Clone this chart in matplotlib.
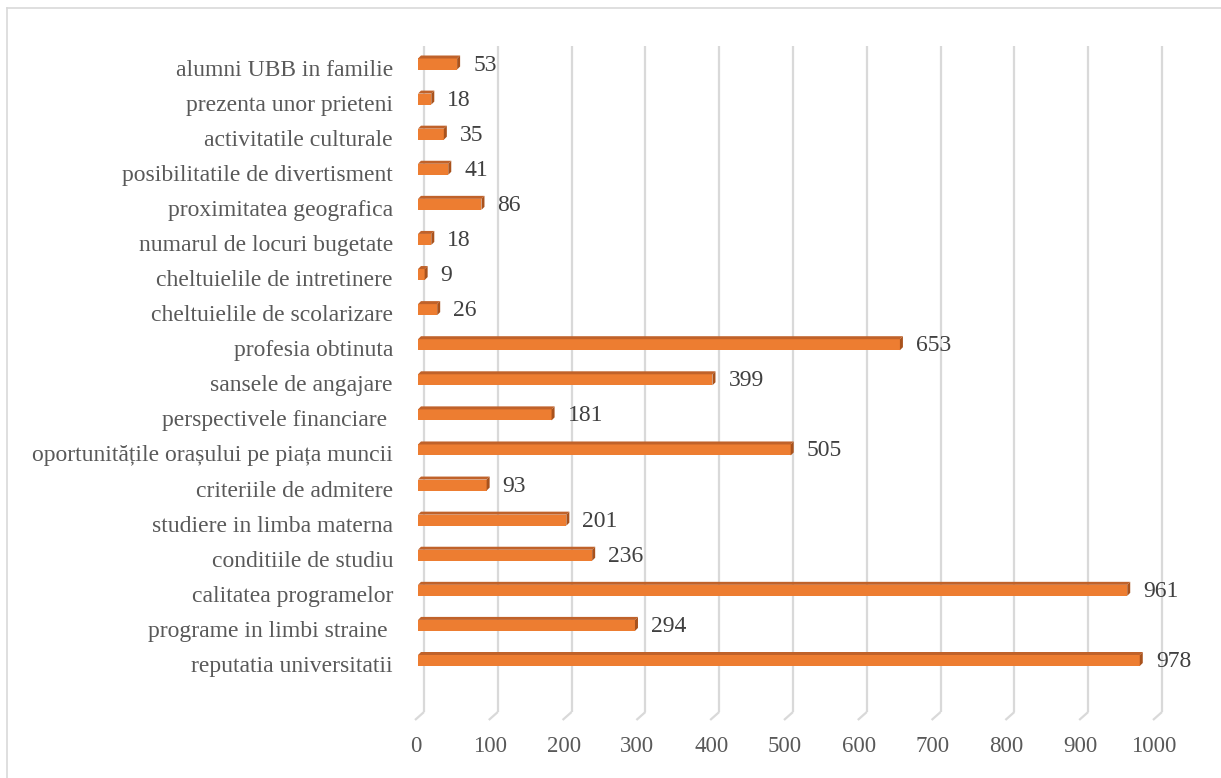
import matplotlib
matplotlib.use("Agg")
import matplotlib.pyplot as plt
from matplotlib.collections import PolyCollection
from matplotlib.lines import Line2D

categories = [
    "reputatia universitatii",
    "programe in limbi straine ",
    "calitatea programelor",
    "conditiile de studiu",
    "studiere in limba materna",
    "criteriile de admitere",
    "oportunitățile orașului pe piața muncii",
    "perspectivele financiare ",
    "sansele de angajare",
    "profesia obtinuta",
    "cheltuielile de scolarizare",
    "cheltuielile de intretinere",
    "numarul de locuri bugetate",
    "proximitatea geografica",
    "posibilitatile de divertisment",
    "activitatile culturale",
    "prezenta unor prieteni",
    "alumni UBB in familie",
]
values = [978, 294, 961, 236, 201, 93, 505, 181, 399, 653, 26, 9, 18, 86, 41, 35, 18, 53]
xticks = [0, 100, 200, 300, 400, 500, 600, 700, 800, 900, 1000]

W, H, DPI = 1221, 778, 100
fig = plt.figure(figsize=(W / DPI, H / DPI), dpi=DPI)
fig.patch.set_facecolor("white")

# axes geometry in pixels
ax_l, ax_r, ax_t, ax_b = 424, 1162, 46, 712
ax = fig.add_axes([ax_l / W, 1 - ax_b / H, (ax_r - ax_l) / W, (ax_b - ax_t) / H])
n = len(categories)
y_top_px, y_bot_px = 64.0, 660.5
spy = (y_bot_px - y_top_px) / (n - 1)
ax.set_xlim(0, 1000)
ax.set_ylim(-(ax_b - y_bot_px) / spy, (n - 1) + (y_top_px - ax_t) / spy)
for s in ax.spines.values():
    s.set_visible(False)
ax.set_xticks([])
ax.set_yticks([])
ax.patch.set_alpha(0)

PX = 1000 / (ax_r - ax_l)   # data units per px (x)
PY = 1 / spy                # data units per px (y)

grid_c = "#D9D9D9"
ylo, yhi = ax.get_ylim()
for t in xticks:
    ax.plot([t, t], [ylo, yhi], color=grid_c, lw=1.6, zorder=1, clip_on=False,
            solid_capstyle="butt")
    ax.plot([t, t - 9 * PX], [ylo, ylo - 8 * PY], color=grid_c, lw=1.6, zorder=1,
            clip_on=False, solid_capstyle="butt")
    ax.text(t - 8 * PX, ylo - 35 * PY, str(t), ha="center", va="center",
            fontsize=16.5, color="#595959", family="Liberation Serif")

ys = list(range(n))
fh = 11 * PY
off = -6 * PX
dep_x, dep_y = 3 * PX, 3 * PY
front = "#ED7D31"
topc = "#C0622A"
sidec = "#A9521C"

bars = ax.barh(ys, values, left=off, height=fh, color=front, zorder=3, linewidth=0)
for b in bars:
    b.set_clip_on(False)
tops, sides = [], []
for y, v in zip(ys, values):
    x0, x1 = off, v + off
    yt, yb = y + fh / 2, y - fh / 2
    tops.append([(x0, yt), (x1, yt), (x1 + dep_x, yt + dep_y), (x0 + dep_x, yt + dep_y)])
    sides.append([(x1, yb), (x1, yt), (x1 + dep_x, yt + dep_y), (x1 + dep_x, yb + dep_y)])
pc1 = PolyCollection(tops, facecolors=topc, edgecolors="none", zorder=4)
pc2 = PolyCollection(sides, facecolors=sidec, edgecolors="none", zorder=4)
for pc in (pc1, pc2):
    pc.set_clip_on(False)
    ax.add_collection(pc)

for y, v, c in zip(ys, values, categories):
    ax.text(v + 10 * PX, y - 1 * PY, str(v), ha="left", va="center", fontsize=17,
            color="#404040", family="Liberation Serif", clip_on=False)
    ax.text(-31 * PX, y - 6 * PY, c, ha="right", va="center", fontsize=17,
            color="#595959", family="Liberation Serif", clip_on=False)

# chart border (left and top)
fig.add_artist(Line2D([6.5 / W, 6.5 / W], [0, 1 - 8 / H], transform=fig.transFigure,
                      color=grid_c, lw=1.2))
fig.add_artist(Line2D([6.5 / W, 1], [1 - 8 / H, 1 - 8 / H], transform=fig.transFigure,
                      color=grid_c, lw=1.2))

fig.savefig("out.png", dpi=DPI)
